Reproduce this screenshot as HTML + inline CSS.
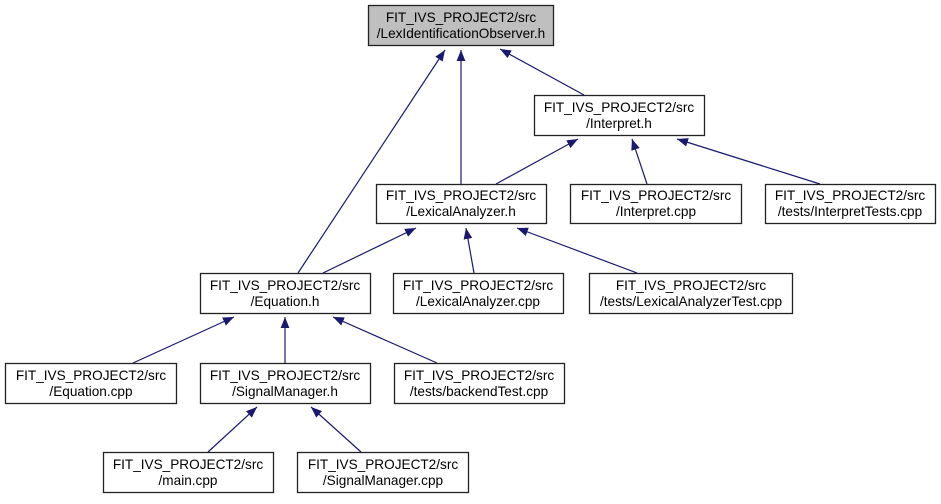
<!DOCTYPE html>
<html><head><meta charset="utf-8"><style>
html,body{margin:0;padding:0;background:#fff;}
svg text{font-family:"Liberation Sans",sans-serif;font-size:13.6px;fill:#000;text-anchor:middle;}
</style></head><body>
<svg width="941" height="499" viewBox="0 0 941 499" xmlns="http://www.w3.org/2000/svg">
<defs><marker id="a" viewBox="0 0 10 10" refX="10" refY="5" markerWidth="11" markerHeight="11" markerUnits="userSpaceOnUse" orient="auto"><path d="M0,1 L10,5 L0,9 z" fill="#191970"/></marker></defs>
<g stroke="#191970" stroke-width="1.2" fill="none" marker-end="url(#a)">
<line x1="298" y1="273" x2="445" y2="50"/>
<line x1="461" y1="184" x2="461" y2="50"/>
<line x1="584" y1="95" x2="500" y2="49"/>
<line x1="496" y1="184" x2="578" y2="139"/>
<line x1="647" y1="184" x2="632" y2="139"/>
<line x1="820" y1="184" x2="677" y2="139"/>
<line x1="323" y1="273" x2="416" y2="228"/>
<line x1="474" y1="273" x2="466" y2="228"/>
<line x1="637" y1="273" x2="517" y2="228"/>
<line x1="133" y1="363" x2="234" y2="317"/>
<line x1="285" y1="363" x2="285" y2="317"/>
<line x1="437" y1="363" x2="333" y2="317"/>
<line x1="208" y1="452" x2="257" y2="407"/>
<line x1="361" y1="452" x2="311" y2="407"/>
</g>
<g stroke="#222" stroke-width="1.3" fill="#fff">
<rect x="368.5" y="5.5" width="185" height="40" fill="#bfbfbf"/>
<rect x="534.5" y="95.5" width="170" height="40"/>
<rect x="376.5" y="184.5" width="170" height="39"/>
<rect x="570.5" y="184.5" width="171" height="39"/>
<rect x="765.5" y="184.5" width="170" height="39"/>
<rect x="200.5" y="273.5" width="170" height="40"/>
<rect x="393.5" y="273.5" width="170" height="40"/>
<rect x="589.5" y="273.5" width="203" height="40"/>
<rect x="5.5" y="363.5" width="171" height="40"/>
<rect x="200.5" y="363.5" width="170" height="40"/>
<rect x="394.5" y="363.5" width="170" height="40"/>
<rect x="103.5" y="452.5" width="170" height="40"/>
<rect x="297.5" y="452.5" width="171" height="40"/>
</g>
<text x="461" y="22">FIT_IVS_PROJECT2/src</text><text x="461" y="38">/LexIdentificationObserver.h</text>
<text x="619" y="112">FIT_IVS_PROJECT2/src</text><text x="619" y="128">/Interpret.h</text>
<text x="461" y="200">FIT_IVS_PROJECT2/src</text><text x="461" y="216">/LexicalAnalyzer.h</text>
<text x="656" y="200">FIT_IVS_PROJECT2/src</text><text x="656" y="216">/Interpret.cpp</text>
<text x="850" y="200">FIT_IVS_PROJECT2/src</text><text x="850" y="216">/tests/InterpretTests.cpp</text>
<text x="285" y="290">FIT_IVS_PROJECT2/src</text><text x="285" y="306">/Equation.h</text>
<text x="478" y="290">FIT_IVS_PROJECT2/src</text><text x="478" y="306">/LexicalAnalyzer.cpp</text>
<text x="691" y="290">FIT_IVS_PROJECT2/src</text><text x="691" y="306">/tests/LexicalAnalyzerTest.cpp</text>
<text x="91" y="380">FIT_IVS_PROJECT2/src</text><text x="91" y="396">/Equation.cpp</text>
<text x="285" y="380">FIT_IVS_PROJECT2/src</text><text x="285" y="396">/SignalManager.h</text>
<text x="479" y="380">FIT_IVS_PROJECT2/src</text><text x="479" y="396">/tests/backendTest.cpp</text>
<text x="188" y="469">FIT_IVS_PROJECT2/src</text><text x="188" y="485">/main.cpp</text>
<text x="383" y="469">FIT_IVS_PROJECT2/src</text><text x="383" y="485">/SignalManager.cpp</text>
</svg>
</body></html>
